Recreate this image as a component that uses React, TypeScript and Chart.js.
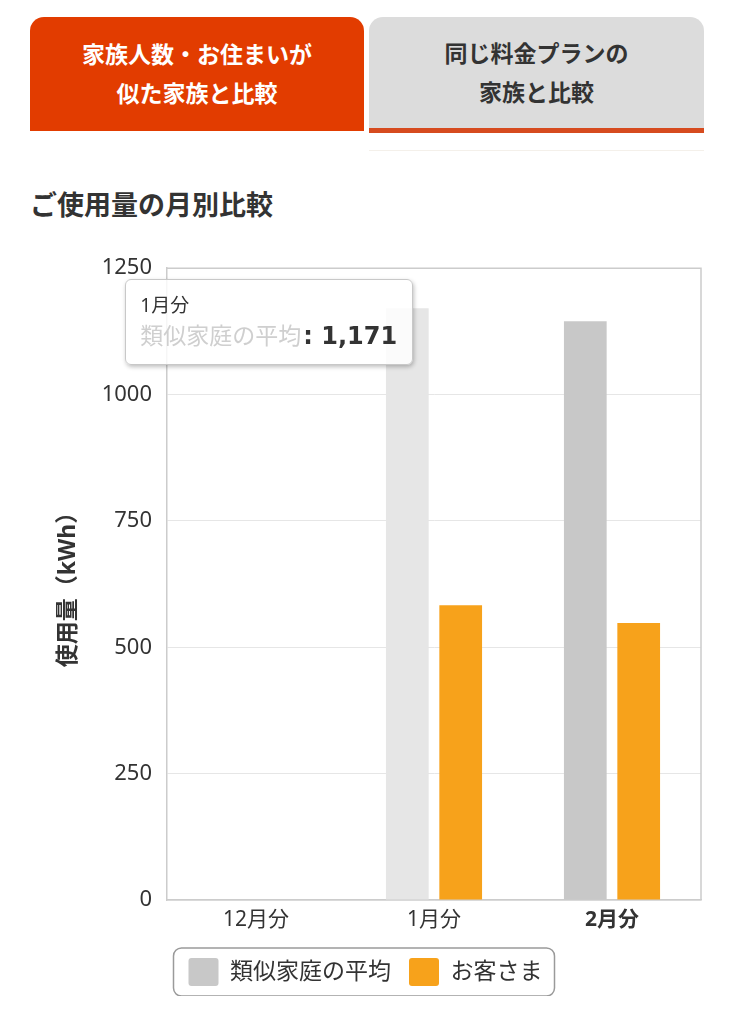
import React, { useEffect, useRef } from "react";
import { Chart, registerables } from "chart.js";

Chart.register(...registerables);

const categories = ["12月分", "1月分", "2月分"];
const similarAverage: (number | null)[] = [null, 1171, 1145];
const customer: (number | null)[] = [null, 583, 548];
const seriesNames = ["類似家庭の平均", "お客さま"];
const yMax = 1250;
const yStep = 250;

const FONT = "'Noto Sans', 'Noto Sans CJK JP', sans-serif";
const TEXT = "#333333";

const legendFrame = {
  id: "legendFrame",
  afterDraw(chart: any) {
    const boxes = chart.legend?.legendHitBoxes;
    if (!boxes || !boxes.length) return;
    const ctx = chart.ctx;
    const left = Math.min(...boxes.map((b: any) => b.left)) - 15;
    const right = Math.max(...boxes.map((b: any) => b.left + b.width)) + 12;
    const top = boxes[0].top - 10;
    const bottom = boxes[0].top + boxes[0].height + 10;
    ctx.save();
    ctx.strokeStyle = "#9a9a9a";
    ctx.lineWidth = 1.5;
    ctx.beginPath();
    ctx.roundRect(left, top, right - left, bottom - top, 8);
    ctx.stroke();
    ctx.restore();
  },
};

const plotFrame = {
  id: "plotFrame",
  afterDatasetsDraw(chart: any) {
    const { ctx, chartArea } = chart;
    ctx.save();
    ctx.strokeStyle = "#cccccc";
    ctx.lineWidth = 1.5;
    ctx.beginPath();
    ctx.moveTo(chartArea.left, chartArea.top);
    ctx.lineTo(chartArea.right, chartArea.top);
    ctx.lineTo(chartArea.right, chartArea.bottom);
    ctx.stroke();
    ctx.restore();
  },
};

const Tabs: React.FC = () => {
  const base: React.CSSProperties = {
    position: "absolute",
    top: 17,
    display: "flex",
    alignItems: "center",
    justifyContent: "center",
    textAlign: "center",
    fontFamily: FONT,
    fontWeight: "bold",
    fontSize: 23,
    lineHeight: "39px",
    borderRadius: "14px 14px 0 0",
  };
  return (
    <>
      <div style={{ ...base, left: 30, width: 334, height: 114, background: "#e23c00", color: "#ffffff" }}>
        <div>
          家族人数・お住まいが
          <br />
          似た家族と比較
        </div>
      </div>
      <div style={{ ...base, left: 369, width: 335, height: 111, background: "#dcdcdc", color: TEXT }}>
        <div>
          同じ料金プランの
          <br />
          家族と比較
        </div>
      </div>
      <div style={{ position: "absolute", left: 369, top: 128, width: 335, height: 5, background: "#d64b1f" }} />
      <div style={{ position: "absolute", left: 369, top: 150, width: 335, height: 1, background: "#f4f0ea" }} />
    </>
  );
};

const App: React.FC = () => {
  const canvasRef = useRef<HTMLCanvasElement>(null);
  const tipRef = useRef<HTMLDivElement>(null);
  const chartRef = useRef<Chart | null>(null);

  useEffect(() => {
    if (!canvasRef.current) return;
    const ctx = canvasRef.current.getContext("2d");
    if (!ctx) return;
    if (chartRef.current) chartRef.current.destroy();

    const external = (context: any) => {
      const tip = tipRef.current;
      const { tooltip } = context;
      if (!tip) return;
      if (!tooltip || tooltip.opacity === 0 || !tooltip.dataPoints?.length) {
        tip.style.display = "none";
        return;
      }
      const dp = tooltip.dataPoints[0];
      const value = (dp.raw as number).toLocaleString("en-US");
      tip.innerHTML =
        `<div style="font-size:19px;line-height:27px;color:${TEXT}">${dp.label}</div>` +
        `<div style="font-size:23px;line-height:32px;color:${TEXT}">` +
        `<span style="color:#cfcfcf">${dp.dataset.label}</span>` +
        `<b style="font-family:'DejaVu Sans',sans-serif;font-size:24px;margin-left:2px">: ${value}</b></div>`;
      tip.style.display = "block";
      tip.style.left = 30 + tooltip.caretX - 282 + "px";
      tip.style.top = 240 + tooltip.caretY - 29 + "px";
    };

    chartRef.current = new Chart(ctx, {
      type: "bar",
      data: {
        labels: categories,
        datasets: [
          {
            label: seriesNames[0],
            data: similarAverage,
            backgroundColor: "#c8c8c8",
            hoverBackgroundColor: "#e6e6e6",
            borderWidth: 0,
          },
          {
            label: seriesNames[1],
            data: customer,
            backgroundColor: "#f7a21b",
            hoverBackgroundColor: "#f7a21b",
            borderWidth: 0,
          },
        ],
      },
      options: {
        responsive: true,
        maintainAspectRatio: false,
        animation: false,
        events: [],
        datasets: { bar: { barPercentage: 0.8, categoryPercentage: 0.6 } },
        layout: { padding: { top: 26, right: 3, left: 0, bottom: 0 } },
        scales: {
          x: {
            grid: { display: false, drawTicks: false },
            border: { display: true, color: "#cccccc", width: 1.5 },
            ticks: {
              padding: 7,
              color: TEXT,
              font: (c: any) => ({ family: FONT, size: 21, weight: c.index === 2 ? "bold" : "normal" }),
            },
            afterFit: (scale: any) => {
              scale.height = 40;
            },
          },
          y: {
            min: 0,
            max: yMax,
            ticks: {
              stepSize: yStep,
              padding: 15,
              color: TEXT,
              font: { family: FONT, size: 22 },
              callback: (v: any) => String(v),
            },
            grid: { color: "#e6e6e6", drawTicks: false },
            border: { display: true, color: "#cccccc", width: 1.5 },
            title: {
              display: true,
              text: "使用量（kWh）",
              color: TEXT,
              font: { family: FONT, size: 23, weight: "bold" },
              padding: { top: 25, bottom: 0 },
            },
            afterFit: (scale: any) => {
              scale.width = 137;
            },
          },
        },
        plugins: {
          legend: {
            position: "bottom",
            labels: {
              boxWidth: 30,
              boxHeight: 28,
              padding: 18,
              useBorderRadius: true,
              borderRadius: 3,
              color: TEXT,
              font: { family: FONT, size: 23 },
            },
          },
          tooltip: { enabled: false, external },
        },
      },
      plugins: [legendFrame, plotFrame],
    });

    const chart = chartRef.current;
    const active = [{ datasetIndex: 0, index: 1 }];
    chart.setActiveElements(active);
    chart.tooltip?.setActiveElements(active, { x: 0, y: 0 });
    chart.update();

    return () => {
      if (chartRef.current) {
        chartRef.current.destroy();
        chartRef.current = null;
      }
    };
  }, []);

  return (
    <div style={{ position: "absolute", left: 0, top: 0, width: 734, height: 1024, background: "#ffffff" }}>
      <Tabs />
      <div
        style={{
          position: "absolute",
          left: 30,
          top: 186,
          fontFamily: FONT,
          fontWeight: "bold",
          fontSize: 27,
          lineHeight: "38px",
          color: TEXT,
        }}
      >
        ご使用量の月別比較
      </div>
      <div style={{ position: "absolute", left: 30, top: 240, width: 674, height: 756 }}>
        <canvas ref={canvasRef} />
      </div>
      <div
        ref={tipRef}
        style={{
          position: "absolute",
          display: "none",
          width: 288,
          boxSizing: "border-box",
          padding: "12px 14px",
          background: "rgba(255,255,255,0.82)",
          border: "1px solid #c8c8c8",
          borderRadius: 6,
          boxShadow: "1px 2px 4px rgba(0,0,0,0.25)",
          fontFamily: FONT,
          whiteSpace: "nowrap",
          pointerEvents: "none",
        }}
      />
    </div>
  );
};

export default App;
